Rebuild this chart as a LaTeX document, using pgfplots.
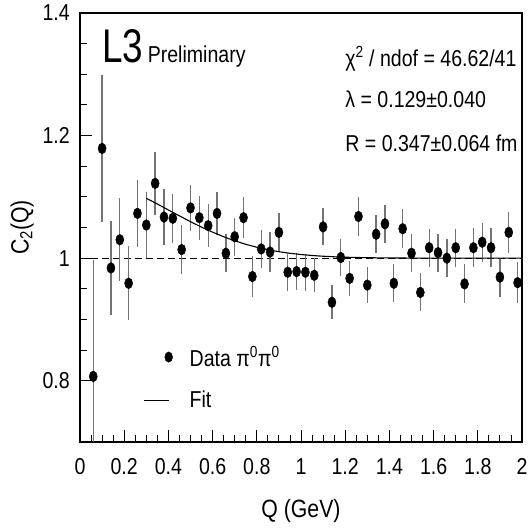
\documentclass[border=0pt]{standalone}
\usepackage{fontspec}
\setmainfont{Liberation Sans}[FakeStretch=0.85]
\usepackage{graphicx}
\usepackage{pgfplots}
\pgfplotsset{compat=1.18}
\usepackage{pgfplotstable}

% C2(Q) for pi0 pi0 pairs: Q, C2, error
\pgfplotstableread{
q     c2     err
0.06  0.807  0.190
0.10  1.179  0.120
0.14  0.984  0.077
0.18  1.030  0.068
0.22  0.959  0.060
0.26  1.073  0.055
0.30  1.054  0.054
0.34  1.122  0.052
0.38  1.067  0.045
0.42  1.065  0.040
0.46  1.014  0.040
0.50  1.082  0.038
0.54  1.066  0.036
0.58  1.053  0.035
0.62  1.073  0.035
0.66  1.008  0.031
0.70  1.035  0.031
0.74  1.066  0.033
0.78  0.970  0.033
0.82  1.015  0.031
0.86  1.010  0.032
0.90  1.042  0.031
0.94  0.977  0.030
0.98  0.978  0.030
1.02  0.977  0.030
1.06  0.972  0.028
1.10  1.051  0.030
1.14  0.928  0.028
1.18  1.001  0.030
1.22  0.967  0.029
1.26  1.068  0.032
1.30  0.956  0.030
1.34  1.039  0.031
1.38  1.056  0.031
1.42  0.959  0.031
1.46  1.048  0.032
1.50  1.008  0.031
1.54  0.944  0.031
1.58  1.017  0.031
1.62  1.009  0.031
1.66  1.000  0.031
1.70  1.017  0.031
1.74  0.958  0.032
1.78  1.017  0.032
1.82  1.026  0.032
1.86  1.017  0.032
1.90  0.969  0.032
1.94  1.042  0.034
1.98  0.960  0.034
}\datatable

% fitted curve
\pgfplotstableread{
q     c2
0.30  1.0977
0.35  1.0883
0.40  1.0786
0.45  1.0690
0.50  1.0595
0.55  1.0506
0.60  1.0424
0.65  1.0349
0.70  1.0283
0.75  1.0226
0.80  1.0178
0.85  1.0138
0.90  1.0105
0.95  1.0079
1.00  1.0059
1.05  1.0043
1.10  1.0031
1.15  1.0022
1.20  1.0015
1.30  1.0007
1.40  1.0003
1.50  1.0001
1.70  1.0000
2.00  1.0000
}\fittable

\newcommand{\txt}{\fontsize{23}{25}\selectfont}

\begin{document}
\begin{tikzpicture}

\begin{axis}[
  width=442pt,
  height=429pt,
  scale only axis,
  xmin=0, xmax=2,
  ymin=0.7, ymax=1.4,
  xtick={0,0.2,...,2},
  ytick={0.8,1,1.2,1.4},
  minor tick num=3,
  tick pos=left,
  tick align=inside,
  major tick length=12pt,
  minor tick length=6.5pt,
  every tick/.style={black, line width=0.9pt},
  axis line style={line width=1.1pt},
  /pgf/number format/assume math mode=true,
  tick label style={font=\txt},
  xticklabel style={inner sep=0pt, yshift=-16pt},
  yticklabel style={inner sep=0pt, xshift=-10pt},
  xlabel={Q (GeV)},
  ylabel={C\textsubscript{2}(Q)},
  label style={font=\fontsize{25}{27}\selectfont},
  xlabel style={at={(axis description cs:0.5,-0.161)}, anchor=center},
  ylabel style={at={(axis description cs:-0.131,0.5)}, anchor=center},
  legend style={draw=none, fill=none, font=\txt,
    at={(axis cs:0.285,0.805)}, anchor=west,
    row sep=23pt, inner sep=0pt,
    nodes={inner sep=0pt}},
  legend cell align=left,
]

\addplot[black, dashed, line width=0.9pt, dash pattern=on 7pt off 4pt, forget plot]
  coordinates {(0,1) (2,1)};

\addplot[black, only marks, mark=*, mark size=5.4pt,
  mark options={xscale=0.75},
  error bars/.cd, y dir=both, y explicit, error mark=none,
  error bar style={black!55, line width=1.3pt},
  /pgfplots/legend image code/.code={
    \fill[black] (25pt,0pt) ellipse (3.9pt and 5.2pt);
    \path[draw=none, fill=none] (0pt,-1pt) rectangle (46pt,1pt);}]
  table[x=q, y=c2, y error=err] {\datatable};
\addlegendentry{Data π\textsuperscript{0}π\textsuperscript{0}}

\addplot[black, line width=1.1pt, no marks,
  legend image code/.code={
    \draw[black, line width=1pt] (0pt,0pt) -- (25pt,0pt);
    \path[draw=none, fill=none] (0pt,-1pt) rectangle (46pt,1pt);}]
  table[x=q, y=c2] {\fittable};
\addlegendentry{Fit}

\node[anchor=base west, inner sep=0pt] at (axis cs:0.100,1.320)
  {\resizebox{41pt}{33pt}{\fontsize{46}{46}\selectfont L3}};
\node[anchor=base west, inner sep=0pt, font=\txt] at (axis cs:0.306,1.320)
  {Preliminary};

\node[anchor=base west, inner sep=0pt, font=\txt] at (axis cs:1.20,1.3125)
  {χ\textsuperscript{2} / ndof = 46.62/41};
\node[anchor=base west, inner sep=0pt, font=\txt] at (axis cs:1.20,1.245)
  {λ = 0.129±0.040};
\node[anchor=base west, inner sep=0pt, font=\txt] at (axis cs:1.20,1.174)
  {R = 0.347±0.064 fm};

\end{axis}

\pgfresetboundingbox
\path (current axis.south west) +(-80pt,-87pt)
      (current axis.north east) +(6pt,13pt);

\end{tikzpicture}
\end{document}
